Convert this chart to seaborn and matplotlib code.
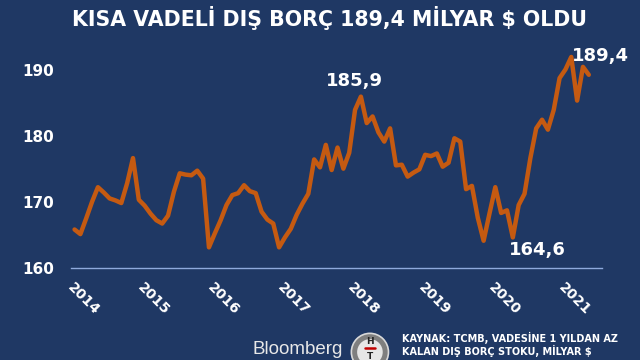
import numpy as np
import pandas as pd
import matplotlib
matplotlib.use("Agg")
import matplotlib.pyplot as plt
import seaborn as sns
from matplotlib.patches import Ellipse

sns.set_style("white")
plt.rcParams['font.family'] = ['DejaVu Sans']

# monthly short-term external debt, Jan 2014 - May 2021 (bn $)
debt = [165.8, 165.1, 167.5, 170.0, 172.2, 171.4, 170.5, 170.2, 169.8, 172.8, 176.6, 170.3,
        169.4, 168.2, 167.2, 166.7, 167.9, 171.5, 174.3, 174.1, 174.0, 174.7, 173.5, 163.1,
        165.2, 167.2, 169.5, 171.0, 171.3, 172.5, 171.6, 171.3, 168.5, 167.3, 166.7, 163.1,
        164.6, 165.9, 168.0, 169.7, 171.2, 176.4, 175.2, 178.6, 174.8, 178.2, 175.0, 177.4,
        183.9, 185.9, 181.9, 182.9, 180.5, 179.1, 181.1, 175.5, 175.6, 173.8, 174.4, 174.9,
        177.1, 176.9, 177.3, 175.3, 175.9, 179.6, 179.1, 171.9, 172.4, 167.6, 164.1, 168.2,
        172.2, 168.3, 168.7, 164.6, 169.5, 171.2, 176.6, 181.1, 182.4, 180.9, 183.9, 188.7,
        190.0, 191.9, 185.3, 190.4, 189.2]
years = ["2014", "2015", "2016", "2017", "2018", "2019", "2020", "2021"]
y_ticks = [160, 170, 180, 190]
labels = [(49, "185,9"), (75, "164,6"), (85, "189,4")]

bg = "#1f3864"
orange = "#c55a11"

df = pd.DataFrame({"month": np.arange(len(debt)), "debt": debt})

fig = plt.figure(figsize=(6.4, 3.6), dpi=100, facecolor=bg)
ax = fig.add_axes([0.111, 0.256, 0.830, 0.606])
ax.set_facecolor(bg)

sns.lineplot(data=df, x="month", y="debt", ax=ax, color=orange, linewidth=3.2)

ax.set_xlim(-0.6, 90.3)
ax.set_ylim(160, 193)
ax.set_yticks(y_ticks)
ax.set_yticklabels([str(v) for v in y_ticks], color="white", fontsize=11, fontweight="bold")
ax.set_xticks([12 * i for i in range(len(years))])
ax.set_xticklabels(years, rotation=-45, ha="left", va="top", rotation_mode="anchor",
                   color="white", fontsize=10, fontweight="bold")
ax.tick_params(axis="y", length=0, pad=12)
ax.tick_params(axis="x", length=0, pad=9)
ax.set_xlabel("")
ax.set_ylabel("")
for s in ["top", "right", "left"]:
    ax.spines[s].set_visible(False)
ax.spines["bottom"].set_color("#8faadc")
ax.spines["bottom"].set_linewidth(1)

offsets = {"185,9": (-5, 11), "164,6": (18, -9), "189,4": (21, 1)}
for i, txt in labels:
    ax.annotate(txt, xy=(i, debt[i]), xytext=offsets[txt], textcoords="offset points",
                ha="center", va="center", color="white", fontsize=13, fontweight="bold",
                annotation_clip=False)

fig.text(0.515, 0.95, "KISA VADELİ DIŞ BORÇ 189,4 MİLYAR $ OLDU", ha="center", va="center",
         color="white", fontsize=14.8, fontweight="bold")

# footer
fig.text(0.395, 0.028, "Bloomberg", ha="left", va="center", color="#e8e8e8", fontsize=13.5,
         family="Liberation Sans")
cx, cy = 0.578, 0.022
fig.patches.append(Ellipse((cx, cy), 0.058, 0.104, transform=fig.transFigure,
                           facecolor="#7f7f7f", edgecolor="#d9d9d9", linewidth=1.2))
fig.patches.append(Ellipse((cx, cy), 0.04, 0.072, transform=fig.transFigure,
                           facecolor="#e6e6e6", edgecolor="none"))
fig.text(cx, cy + 0.03, "H", ha="center", va="center", color="#222222", fontsize=6.5, fontweight="bold")
fig.text(cx, cy - 0.012, "T", ha="center", va="center", color="#222222", fontsize=6.5, fontweight="bold")
fig.lines.append(plt.Line2D([cx - 0.008, cx + 0.008], [cy + 0.01, cy + 0.01],
                            transform=fig.transFigure, color="#c00000", linewidth=1.8))
fig.text(0.628, 0.061, "KAYNAK: TCMB, VADESİNE 1 YILDAN AZ", ha="left", va="center",
         color="white", fontsize=7, fontweight="bold")
fig.text(0.628, 0.025, "KALAN DIŞ BORÇ STOKU, MİLYAR $", ha="left", va="center",
         color="white", fontsize=7, fontweight="bold")

fig.savefig("out.png", dpi=100, facecolor=bg)
